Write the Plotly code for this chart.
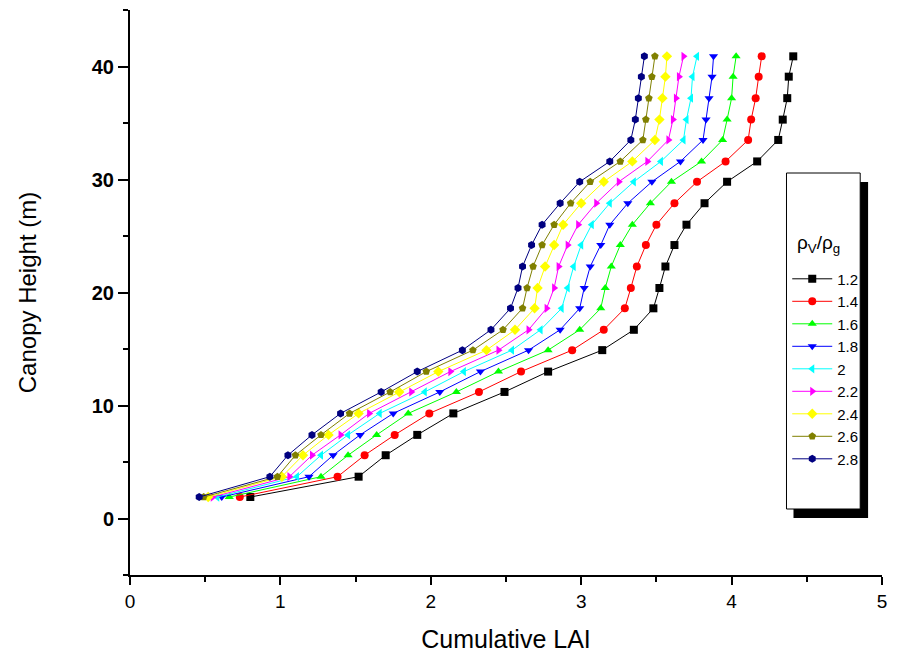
import plotly.graph_objects as go

# Canopy height levels (m)
heights = [1.9, 3.7, 5.6, 7.4, 9.3, 11.2, 13.0, 14.9, 16.7, 18.6, 20.4,
           22.3, 24.2, 26.0, 27.9, 29.8, 31.6, 33.5, 35.3, 37.2, 39.1, 40.9]

# Density ratio for each profile
ratio_labels = ["1.2", "1.4", "1.6", "1.8", "2", "2.2", "2.4", "2.6", "2.8"]

# Cumulative LAI, bottom to top, one list per density ratio
lai_12 = [0.80, 1.52, 1.70, 1.91, 2.15, 2.49, 2.78, 3.14, 3.35, 3.48, 3.52,
          3.56, 3.62, 3.70, 3.82, 3.97, 4.17, 4.31, 4.34, 4.37, 4.38, 4.41]
lai_14 = [0.73, 1.38, 1.56, 1.76, 1.99, 2.32, 2.60, 2.94, 3.15, 3.29, 3.33,
          3.37, 3.43, 3.50, 3.62, 3.77, 3.96, 4.11, 4.13, 4.16, 4.18, 4.20]
lai_16 = [0.66, 1.27, 1.45, 1.64, 1.85, 2.17, 2.45, 2.78, 2.99, 3.13, 3.16,
          3.20, 3.26, 3.34, 3.46, 3.60, 3.80, 3.94, 3.97, 4.00, 4.01, 4.03]
lai_18 = [0.61, 1.19, 1.35, 1.53, 1.75, 2.06, 2.33, 2.65, 2.86, 2.99, 3.02,
          3.06, 3.13, 3.19, 3.31, 3.47, 3.66, 3.81, 3.83, 3.85, 3.87, 3.88]
lai_20 = [0.58, 1.11, 1.27, 1.45, 1.66, 1.96, 2.22, 2.54, 2.73, 2.87, 2.91,
          2.95, 3.00, 3.07, 3.19, 3.35, 3.53, 3.68, 3.70, 3.73, 3.74, 3.77]
lai_22 = [0.55, 1.06, 1.21, 1.40, 1.59, 1.87, 2.13, 2.45, 2.65, 2.77, 2.82,
          2.85, 2.91, 2.98, 3.10, 3.25, 3.44, 3.58, 3.61, 3.63, 3.65, 3.68]
lai_24 = [0.52, 1.01, 1.15, 1.32, 1.52, 1.79, 2.05, 2.37, 2.56, 2.69, 2.71,
          2.76, 2.82, 2.88, 3.00, 3.15, 3.34, 3.49, 3.52, 3.54, 3.56, 3.57]
lai_26 = [0.49, 0.98, 1.10, 1.27, 1.46, 1.73, 1.97, 2.28, 2.48, 2.61, 2.64,
          2.68, 2.74, 2.82, 2.93, 3.06, 3.26, 3.41, 3.43, 3.45, 3.47, 3.49]
lai_28 = [0.46, 0.93, 1.05, 1.21, 1.40, 1.67, 1.91, 2.21, 2.40, 2.53, 2.58,
          2.61, 2.67, 2.74, 2.86, 2.99, 3.19, 3.33, 3.36, 3.38, 3.40, 3.42]

profiles = [lai_12, lai_14, lai_16, lai_18, lai_20, lai_22, lai_24, lai_26, lai_28]
colors = ["#000000", "#FF0000", "#00FF00", "#0000FF", "#00FFFF",
          "#FF00FF", "#FFFF00", "#808000", "#000080"]
symbols = ["square", "circle", "triangle-up", "triangle-down", "triangle-left",
           "triangle-right", "diamond", "pentagon", "hexagon"]

fig = go.Figure()
for label, lai, col, sym in zip(ratio_labels, profiles, colors, symbols):
    fig.add_trace(go.Scatter(
        x=lai, y=heights, mode="lines+markers", name=label,
        line=dict(color=col, width=1),
        marker=dict(symbol=sym, color=col, size=8, line=dict(width=0)),
    ))

font_family = "Liberation Sans, Arial, sans-serif"

# Legend frame with a drop shadow (paper coordinates)
fig.add_shape(type="rect", xref="paper", yref="paper",
              x0=0.8823, x1=0.9815, y0=0.1009, y1=0.6956,
              fillcolor="black", line=dict(width=0), layer="below")
fig.add_shape(type="rect", xref="paper", yref="paper",
              x0=0.873, x1=0.971, y0=0.1168, y1=0.7115,
              fillcolor="white", line=dict(color="black", width=1), layer="below")

# Legend heading
fig.add_annotation(
    text="ρ<sub>V</sub>/ρ<sub>g</sub>", xref="paper", yref="paper",
    x=0.915, y=0.585, xanchor="center", yanchor="middle",
    showarrow=False, font=dict(size=19, family=font_family, color="black"),
)

fig.update_layout(
    width=897, height=659,
    margin=dict(l=130, r=11, t=10, b=84),
    paper_bgcolor="white", plot_bgcolor="white",
    font=dict(family=font_family, color="black"),
    showlegend=True,
    legend=dict(
        x=0.874, y=0.553, xanchor="left", yanchor="top",
        bgcolor="rgba(0,0,0,0)", borderwidth=0,
        font=dict(size=15, family=font_family, color="black"),
        itemwidth=40,
    ),
    xaxis=dict(
        range=[0, 5], dtick=1, tick0=0,
        showgrid=False, zeroline=False,
        showline=True, linecolor="black", linewidth=2,
        ticks="outside", ticklen=8, tickwidth=2, tickcolor="black",
        tickfont=dict(size=19, family=font_family),
        minor=dict(ticks="outside", ticklen=5, tickwidth=2, dtick=0.5,
                   tickcolor="black", showgrid=False),
        title=dict(text="Cumulative LAI", font=dict(size=25, family=font_family),
                   standoff=20),
    ),
    yaxis=dict(
        range=[-5, 45], dtick=10, tick0=0,
        showgrid=False, zeroline=False,
        showline=True, linecolor="black", linewidth=2,
        ticks="outside", ticklen=10, tickwidth=2, tickcolor="black",
        tickfont=dict(size=20, family=font_family, weight="bold"),
        minor=dict(ticks="outside", ticklen=5, tickwidth=2, dtick=5,
                   tickcolor="black", showgrid=False),
        title=dict(text="Canopy Height (m)", font=dict(size=24, family=font_family),
                   standoff=48),
    ),
)

fig.write_html("out.html")
